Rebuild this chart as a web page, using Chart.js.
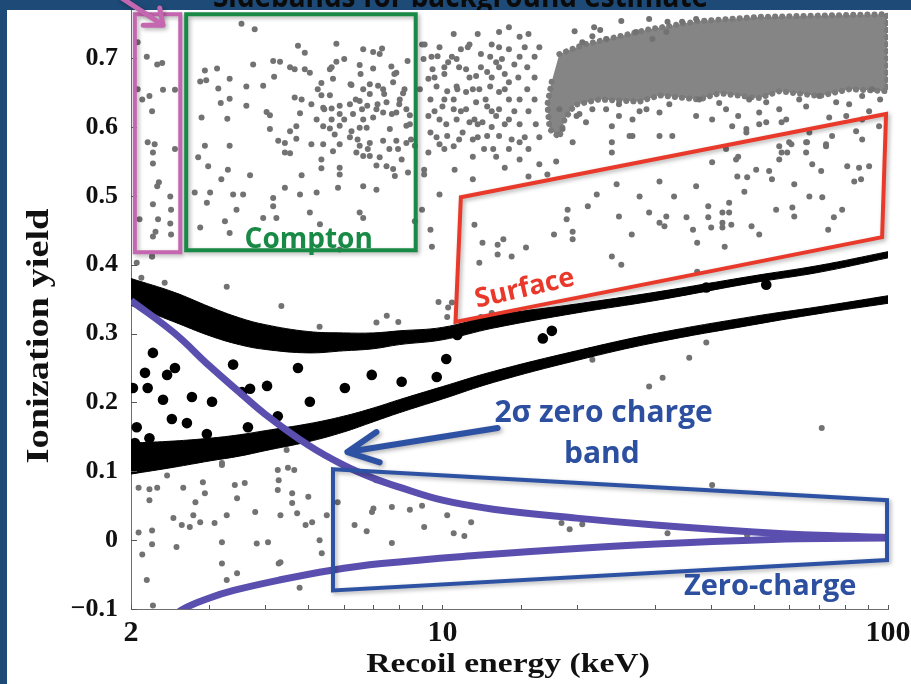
<!DOCTYPE html>
<html>
<head>
<meta charset="utf-8">
<title>Ionization yield vs recoil energy</title>
<script src="https://cdn.jsdelivr.net/npm/chart.js@4.4.1/dist/chart.umd.min.js"></script>
<style>
  html, body { margin: 0; padding: 0; background: #fff; }
  canvas { display: block; }
</style>
</head>
<body>
<canvas id="yieldChart" width="911" height="684"></canvas>
<script>
// recoil energy (keV) vs ionization yield
const xTickLabels = [2, 10, 100];
const yTicks = [-0.1, 0, 0.1, 0.2, 0.3, 0.4, 0.5, 0.6, 0.7];

// gray events, [energy, yield]
const leftSidebandEvents = [
  [2.07,0.723],[2.17,0.702],[2.29,0.691],[2.35,0.693],[2.07,0.655],[2.20,0.645],[2.36,0.654],[2.51,0.654],
  [2.12,0.640],[2.23,0.623],[2.18,0.578],[2.26,0.575],[2.24,0.563],[2.51,0.568],[2.24,0.547],[2.31,0.520],
  [2.29,0.514],[2.45,0.499],[2.24,0.488],[2.46,0.480],[2.09,0.466],[2.30,0.466],[2.45,0.460],[2.27,0.448],
  [2.24,0.441],[2.46,0.444],[2.23,0.412]
];

const comptonEvents = [
  [3.54,0.750],[3.79,0.742],[4.74,0.718],[4.91,0.708],[5.78,0.721],[6.64,0.713],[6.99,0.709],[7.32,0.714],[9.12,0.720],
  [3.76,0.691],[4.17,0.696],[4.32,0.695],[4.55,0.687],[4.66,0.684],[4.91,0.684],[5.04,0.679],[5.64,0.687],[5.78,0.695],
  [6.52,0.690],[6.99,0.685],[7.68,0.688],[7.88,0.679],
  [2.93,0.682],[3.12,0.685],[2.86,0.666],[2.95,0.668],[3.33,0.670],[3.63,0.659],[3.96,0.660],[4.19,0.673],[5.35,0.664],
  [5.68,0.670],[6.25,0.661],[6.64,0.655],[6.87,0.662],[7.17,0.660],[7.36,0.655],[7.75,0.665],[8.16,0.649],
  [3.14,0.656],[3.33,0.641],[3.18,0.635],[3.63,0.631],[4.66,0.643],[4.83,0.640],[5.08,0.633],[5.35,0.646],[5.59,0.646],
  [5.40,0.628],[5.64,0.627],[5.88,0.631],[6.20,0.633],[6.52,0.638],[6.78,0.631],[7.11,0.626],[7.49,0.636],[8.02,0.640],[8.30,0.626],
  [2.88,0.614],[3.29,0.612],[4.03,0.622],[4.10,0.617],[4.79,0.620],[5.22,0.611],[5.64,0.611],[5.88,0.619],[6.30,0.619],
  [6.64,0.611],[6.99,0.614],[7.36,0.621],[7.88,0.621],[8.45,0.617],
  [4.10,0.597],[4.55,0.594],[4.70,0.601],[5.40,0.601],[5.59,0.598],[5.88,0.602],[6.25,0.594],[6.52,0.599],[6.76,0.599],
  [7.62,0.597],[8.30,0.602],
  [4.28,0.580],[4.43,0.577],[4.70,0.583],[5.08,0.575],[5.40,0.575],[5.68,0.565],[5.88,0.575],[6.20,0.585],[6.52,0.573],
  [6.87,0.577],[7.36,0.580],[7.88,0.580],[8.30,0.577],[8.67,0.573],
  [2.93,0.573],[3.33,0.573],[4.43,0.563],[4.55,0.562],[6.41,0.563],[6.64,0.558],[6.87,0.558],[7.23,0.556],[7.95,0.568],
  [2.83,0.556],[2.98,0.543],[3.30,0.538],[3.19,0.524],[3.70,0.530],[4.83,0.530],[5.35,0.553],[5.35,0.540],[5.88,0.541],
  [5.88,0.531],[7.11,0.544],[7.49,0.543],[7.75,0.539],[7.82,0.529],[8.37,0.534],
  [2.78,0.505],[3.01,0.505],[2.96,0.490],[3.39,0.502],[3.57,0.502],[4.17,0.497],[4.43,0.512],[4.79,0.502],[5.22,0.505],
  [5.83,0.512],[6.64,0.514],[7.11,0.509],
  [3.45,0.480],[4.17,0.485],[3.96,0.468],[4.24,0.468],[5.04,0.476],[5.31,0.459],[6.52,0.476],[6.64,0.468],[3.25,0.463],
  [2.86,0.454],[3.33,0.446],[5.88,0.422],[8.67,0.463],
  [6.22,0.662],[6.39,0.640],[6.60,0.626],[6.87,0.648],[7.15,0.633],[7.40,0.648],[7.70,0.619],[8.00,0.633],[8.22,0.655],
  [8.45,0.604],[6.02,0.611],[6.45,0.582],[6.80,0.568],[7.60,0.568],[8.10,0.553],[8.50,0.582],[5.73,0.589],[5.43,0.626],
  [5.25,0.655],[5.59,0.684],[6.02,0.699],[6.55,0.677],[7.80,0.677],[8.35,0.696],[7.23,0.706]
];

const bulkEdgeEvents = [
  [13.4,0.738],[14.1,0.745],[22.6,0.741],[25.2,0.754],[29.1,0.757],[32.0,0.753],[34.5,0.753],[37.1,0.757],
  [9.0,0.720],[14.9,0.731],[20.6,0.723],[21.7,0.732],[23.3,0.728],[27.2,0.738],[29.6,0.728],[31.8,0.738],
  [9.07,0.699],[9.75,0.703],[10.3,0.694],[10.76,0.699],[11.3,0.684],[11.9,0.674],[12.6,0.680],[13.2,0.694],[13.6,0.699],[14.1,0.713],
  [9.3,0.670],[9.7,0.659],[10.25,0.652],[10.76,0.659],[11.3,0.651],[12.1,0.655],[12.8,0.659],[13.4,0.651],[14.1,0.665],
  [9.4,0.640],[10.0,0.630],[10.6,0.640],[11.3,0.626],[11.9,0.636],[12.6,0.630],[13.4,0.626],[14.1,0.640],
  [9.3,0.616],[9.85,0.611],[10.76,0.611],[11.5,0.607],[12.3,0.607],[13.2,0.616],[14.1,0.611],
  [9.4,0.592],[10.25,0.587],[11.1,0.592],[11.7,0.582],[12.6,0.587],[13.4,0.587],[14.3,0.582],
  [9.3,0.563],[10.6,0.572],[11.7,0.557],[13.2,0.557],[14.1,0.568],[14.9,0.578],
  [18.3,0.626],[20.0,0.616],[18.6,0.597],[19.6,0.578],[21.0,0.607],[21.7,0.626],[23.3,0.626],[24.0,0.601],[24.9,0.616],
  [26.7,0.611],[26.3,0.587],[28.7,0.626],[30.7,0.621],[30.7,0.587],[32.8,0.587],[37.1,0.616],[40.3,0.611],[43.3,0.626],
  [46.1,0.616],[48.1,0.597],[51.4,0.621],[53.3,0.636],[57.0,0.626],[59.1,0.611],[65.5,0.630],[70.1,0.645],[76.5,0.636],
  [80.6,0.616],[87.5,0.645],[92.1,0.655],[95.5,0.601],[87.5,0.582],[72.6,0.572],[65.5,0.578],[60.0,0.578],[57.0,0.572],
  [46.1,0.557],[43.3,0.568],[24.0,0.563],[24.0,0.578],[26.7,0.587],[18.0,0.550],[11.7,0.524],[9.47,0.426],[15.6,0.528],
  [44.7,0.601],[48.1,0.592],[53.3,0.607],[57.7,0.607],[66.6,0.592],[74.9,0.587],[87.5,0.611],[57.7,0.563],
  [9.5,0.684],[10.1,0.677],[11.0,0.713],[11.5,0.720],[12.2,0.706],[12.9,0.720],[13.8,0.677],[14.5,0.691],[10.6,0.626],
  [11.8,0.611],[12.9,0.600],[13.8,0.604],[10.9,0.582],[9.85,0.575],[12.4,0.568],[14.9,0.553],[16.5,0.546],[17.2,0.531],
  [13.8,0.541],[10.65,0.538],[9.1,0.531],[9.85,0.502],[9.0,0.480],[9.1,0.538],[9.4,0.451],
  [37.7,0.640],[41.8,0.635],[48.8,0.640],[63.2,0.640],[81.8,0.633],[96.0,0.640],[24.9,0.633],[20.3,0.619],[27.7,0.623],
  [32.3,0.633],[51.4,0.604],[73.8,0.614],[90.7,0.623],
  [10.6,0.735],[12.0,0.735],[15.6,0.735],[9.85,0.716],[11.4,0.716],[13.4,0.716],[15.3,0.716],[16.5,0.716],
  [9.45,0.702],[10.5,0.702],[12.8,0.702],[14.9,0.702],[16.1,0.702],[10.1,0.687],[10.9,0.687],[12.2,0.687],[13.4,0.687],
  [15.5,0.687],[9.6,0.672],[11.5,0.672],[12.9,0.672],[14.8,0.672],[16.1,0.672],[8.9,0.655],[10.8,0.655],[11.7,0.655],
  [13.8,0.655],[15.5,0.655],[10.1,0.640],[12.5,0.640],[14.9,0.640],[16.1,0.640],[9.6,0.623],[11.0,0.623],[12.9,0.623],
  [14.5,0.623],[15.6,0.623],[10.2,0.604],[12.0,0.604],[14.9,0.604],[16.2,0.604],[9.7,0.585],[12.0,0.585],[15.3,0.585],
  [16.5,0.585],[10.1,0.568],[13.0,0.568],[15.6,0.568],[19.8,0.739],[21.9,0.745]
];

const surfaceEvents = [
  [22.2,0.502],[24.6,0.517],[30.7,0.521],[27.7,0.499],[33.1,0.499],[37.1,0.514],[40.3,0.549],[45.6,0.553],[45.9,0.528],
  [48.3,0.527],[50.6,0.538],[54.1,0.536],[54.9,0.524],[61.6,0.517],[60.7,0.575],[65.8,0.578],[72.6,0.575],[57.0,0.553],
  [59.4,0.563],[65.5,0.563],[67.6,0.546],[70.8,0.536],[81.0,0.543],[86.1,0.541],[90.7,0.543],[87.0,0.524],[84.0,0.521],
  [84.8,0.594],[66.6,0.499],[71.2,0.498],[61.0,0.483],[61.6,0.470],[56.1,0.480],[78.9,0.480],[75.6,0.469],[73.4,0.451],
  [51.4,0.444],[49.4,0.456],[47.6,0.506],[44.0,0.490],[44.0,0.476],[44.5,0.458],[42.5,0.476],[42.5,0.461],[42.5,0.454],
  [39.5,0.485],[39.5,0.469],[40.1,0.454],[36.5,0.451],[35.3,0.469],[31.8,0.470],[30.7,0.461],[31.5,0.456],[29.1,0.476],
  [24.9,0.470],[26.6,0.444],[21.2,0.485],[19.1,0.480],[19.0,0.466],[19.6,0.448],[19.6,0.437],[17.8,0.444],[15.4,0.425],
  [13.7,0.437],[13.3,0.429],[12.3,0.432],[13.3,0.415],[14.3,0.412],[11.8,0.458],[37.3,0.432],[43.0,0.426],[24.0,0.412],
  [25.2,0.400],[37.3,0.390],[12.1,0.403]
];

const midYieldEvents = [
  [2.11,0.381],[2.38,0.374],[2.45,0.355],[3.28,0.368],[4.35,0.340],[3.09,0.330],[5.30,0.310],[7.11,0.316],[7.5,0.326],
  [7.96,0.317],[2.06,0.403],[2.23,0.412],[9.8,0.346],[10.5,0.345],[10.3,0.338],[10.25,0.324],[12.2,0.324],[12.9,0.330],
  [39.1,0.287],[35.8,0.265],[21.7,0.262],[31.2,0.236],[29.1,0.223],[71.0,0.163],[40.3,0.080]
];

const lowYieldEvents = [
  [2.08,0.076],[2.2,0.074],[2.29,0.076],[2.2,0.058],[2.62,0.076],[2.79,0.055],[2.9,0.084],[2.93,0.068],[3.2,0.109],
  [3.42,0.080],[3.6,0.083],[3.46,0.061],[2.49,0.032],[2.6,0.022],[2.71,0.019],[2.76,0.036],[2.86,0.026],[3.08,0.025],
  [3.28,0.036],[3.8,0.041],[4.27,0.102],[4.5,0.105],[4.65,0.102],[4.29,0.087],[4.27,0.073],[4.33,0.036],[4.6,0.054],
  [4.72,0.039],[2.08,0.011],[2.23,0.014],[2.23,-0.006],[2.12,-0.021],[2.53,-0.010],[3.2,-0.003],[3.2,-0.034],[3.83,-0.005],
  [4.06,-0.003],[4.29,-0.034],[2.17,-0.058],[3.28,-0.058],[3.46,-0.048],[2.24,-0.095],[4.47,0.131],[2.41,0.094],[3.2,0.112],
  [4.6,0.068],[5.1,0.026],[4.93,0.022],[5.5,0.036],[5.3,0.000],[5.36,-0.019],[5.0,0.063],[5.82,0.055],[6.35,0.022],
  [6.76,0.013],[6.95,0.041],[7.0,0.046],[7.1,0.087],[7.7,0.048],[7.7,-0.004],[8.45,0.044],[9.0,0.050],[9.1,0.019],
  [10.25,0.036],[10.6,0.010],[11.2,0.006],[11.6,0.026],[18.5,0.025],[19.3,0.016],[20.6,0.023],[32.0,0.010],[4.78,-0.069],
  [4.33,-0.032],[48.3,0.007]
];

// outline of the saturated bulk population
const bulkCore = [
  [18.3,0.706],[20.8,0.720],[22.5,0.725],[29.1,0.742],[37.7,0.754],[51.4,0.760],[99.5,0.764],[99.5,0.652],
  [82.2,0.655],[70.1,0.645],[57.0,0.652],[51.4,0.642],[41.8,0.649],[37.7,0.640],[30.7,0.646],[27.7,0.637],
  [22.5,0.640],[19.8,0.632],[18.8,0.611],[18.3,0.585],[17.4,0.597],[17.2,0.633],[17.6,0.667]
];

// neutron-like candidates
const blackEvents = [
  [2.24,0.272],[2.15,0.243],[2.41,0.240],[2.51,0.250],[3.39,0.255],[4.74,0.250],[2.02,0.221],[2.18,0.221],[2.36,0.204],
  [2.74,0.208],[3.04,0.201],[3.55,0.215],[3.70,0.220],[4.04,0.224],[6.04,0.221],[6.94,0.240],[8.10,0.230],[9.71,0.237],
  [10.2,0.263],[5.04,0.201],[2.47,0.176],[2.67,0.170],[2.06,0.164],[2.96,0.154],[3.66,0.164],[4.27,0.180],[2.20,0.148],
  [2.04,0.141],[16.8,0.293],[17.6,0.304],[39.1,0.367],[53.3,0.371],[10.8,0.298]
];

// electron-recoil and nuclear-recoil bands
const bandEnergy = [2, 2.5, 3, 3.5, 4, 5, 6, 7, 8, 10, 13, 20, 30, 50, 70, 100];
const erBandHigh = [0.380,0.360,0.339,0.323,0.313,0.303,0.301,0.301,0.304,0.309,0.326,0.343,0.360,0.384,0.399,0.419];
const erBandLow  = [0.341,0.317,0.297,0.284,0.277,0.272,0.275,0.278,0.284,0.291,0.308,0.330,0.348,0.374,0.389,0.410];
const nrBandHigh = [0.141,0.144,0.148,0.153,0.159,0.169,0.180,0.192,0.204,0.223,0.245,0.275,0.300,0.325,0.339,0.355];
const nrBandLow  = [0.096,0.106,0.115,0.122,0.130,0.143,0.157,0.172,0.185,0.205,0.229,0.261,0.287,0.313,0.329,0.344];

// 2-sigma zero charge band
const zeroChargeUpper = [[2,0.348],[2.5,0.301],[3,0.253],[3.5,0.215],[4,0.183],[5,0.138],[6,0.109],[7,0.090],[8,0.077],
  [10,0.058],[13,0.045],[20,0.032],[30,0.022],[50,0.012],[70,0.007],[100,0.004]];
const zeroChargeLower = [[2.45,-0.115],[2.62,-0.100],[3.0,-0.084],[3.4,-0.073],[4.3,-0.058],[5.6,-0.044],[7.3,-0.034],
  [12,-0.022],[20,-0.012],[34,-0.004],[63,0.002],[100,0.003]];

const toXY = ([x, y]) => ({ x, y });
const band = vals => bandEnergy.map((e, i) => ({ x: e, y: vals[i] }));
const grayEvents = [...leftSidebandEvents, ...comptonEvents, ...bulkEdgeEvents, ...surfaceEvents, ...midYieldEvents, ...lowYieldEvents];

// selection regions and notes, in data coordinates
const regions = [
  { color: '#c566b0', pts: [[2.04,0.764],[2.58,0.764],[2.58,0.418],[2.04,0.418]] },
  { color: '#198a46', pts: [[2.66,0.764],[8.71,0.764],[8.71,0.421],[2.66,0.421]] },
  { color: '#e8392b', pts: [[11.0,0.498],[99.0,0.619],[97.0,0.440],[10.7,0.317]] },
  { color: '#2e52a3', pts: [[5.68,0.103],[99.5,0.058],[99.5,-0.029],[5.68,-0.073]] }
];
const arrows = [
  { color: '#2e52a3', width: 6, tail: [13.3,0.163], tip: [6.12,0.128], barbs: [[7.11,0.157],[7.23,0.113]] },
  { color: '#c566b0', width: 5, tail: [1.89,0.789], tip: [2.36,0.748], barbs: [[2.13,0.748],[2.32,0.773]] }
];
const notes = [
  { text: 'Compton', at: [5.01,0.425], color: '#198a46', size: 28 },
  { text: 'Surface', at: [15.3,0.365], color: '#e8392b', size: 27, angle: -13, middle: true },
  { text: '2σ zero charge', at: [23.0,0.172], color: '#2d4fa0', size: 30 },
  { text: 'band', at: [22.8,0.112], color: '#2d4fa0', size: 30 },
  { text: 'Zero-charge', at: [54.4,-0.080], color: '#2d4fa0', size: 29 }
];

const serif = 'Liberation Serif';

// slide frame behind the plot
const slideFrame = {
  id: 'slideFrame',
  beforeDraw(chart) {
    const { ctx, width, height } = chart;
    ctx.save();
    ctx.fillStyle = '#fff';
    ctx.fillRect(0, 0, width, height);
    ctx.fillStyle = '#1d4a76';
    ctx.fillRect(0, 0, width, 10);
    ctx.fillRect(0, 0, 7, height);
    ctx.beginPath();
    ctx.rect(0, 0, width, 10);
    ctx.clip();
    ctx.fillStyle = '#0b0b0b';
    ctx.font = 'bold 32px "Open Sans"';
    const title = 'Sidebands for background estimate';
    const w = ctx.measureText(title).width;
    ctx.translate(213, 7);
    ctx.scale(495 / w, 1);
    ctx.fillText(title, 0, 0);
    ctx.restore();
  }
};

// short tick marks pointing into the plot
const inwardTicks = {
  id: 'inwardTicks',
  afterDatasetsDraw(chart) {
    const { ctx, chartArea: a, scales: { x, y } } = chart;
    ctx.save();
    ctx.strokeStyle = '#555';
    ctx.lineWidth = 1;
    ctx.beginPath();
    x.ticks.forEach(t => {
      const px = Math.round(x.getPixelForValue(t.value)) + 0.5;
      ctx.moveTo(px, a.bottom);
      ctx.lineTo(px, a.bottom - 4);
    });
    yTicks.forEach(v => {
      const py = Math.round(y.getPixelForValue(v)) + 0.5;
      ctx.moveTo(a.left, py);
      ctx.lineTo(a.left + 6, py);
    });
    ctx.stroke();
    ctx.restore();
  }
};

const overlays = {
  id: 'overlays',
  afterDatasetsDraw(chart) {
    const { ctx, scales: { x, y } } = chart;
    const P = p => [x.getPixelForValue(p[0]), y.getPixelForValue(p[1])];
    ctx.save();
    ctx.shadowColor = 'rgba(0,0,0,0.3)';
    ctx.shadowBlur = 4;
    ctx.shadowOffsetX = 2;
    ctx.shadowOffsetY = 2;
    ctx.lineWidth = 4;
    ctx.lineJoin = 'miter';
    regions.forEach(r => {
      ctx.strokeStyle = r.color;
      ctx.beginPath();
      r.pts.forEach((p, i) => { const [px, py] = P(p); i ? ctx.lineTo(px, py) : ctx.moveTo(px, py); });
      ctx.closePath();
      ctx.stroke();
    });
    arrows.forEach(a => {
      const [tx, ty] = P(a.tip);
      ctx.strokeStyle = a.color;
      ctx.lineWidth = a.width;
      ctx.lineCap = 'round';
      ctx.lineJoin = 'round';
      ctx.beginPath();
      ctx.moveTo(...P(a.tail));
      ctx.lineTo(tx, ty);
      ctx.moveTo(...P(a.barbs[0]));
      ctx.lineTo(tx, ty);
      ctx.lineTo(...P(a.barbs[1]));
      ctx.stroke();
    });
    ctx.restore();

    ctx.save();
    notes.forEach(n => {
      const [px, py] = P(n.at);
      ctx.save();
      ctx.translate(px, py);
      if (n.angle) ctx.rotate(n.angle * Math.PI / 180);
      ctx.font = `bold ${n.size}px "Open Sans"`;
      ctx.fillStyle = n.color;
      ctx.textAlign = 'center';
      ctx.textBaseline = n.middle ? 'middle' : 'alphabetic';
      ctx.fillText(n.text, 0, 0);
      ctx.restore();
    });
    ctx.restore();
  }
};

const axisTitles = {
  id: 'axisTitles',
  afterDraw(chart) {
    const { ctx } = chart;
    ctx.save();
    ctx.fillStyle = '#111';
    ctx.textAlign = 'center';
    ctx.textBaseline = 'middle';
    ctx.font = `bold 32px "${serif}"`;
    ctx.translate(40, 336);
    ctx.rotate(-Math.PI / 2);
    ctx.scale(1.2, 1);
    ctx.fillText('Ionization yield', 0, 0);
    ctx.restore();

    ctx.save();
    ctx.fillStyle = '#111';
    ctx.textAlign = 'center';
    ctx.textBaseline = 'alphabetic';
    ctx.font = `bold 28px "${serif}"`;
    ctx.translate(508, 672);
    ctx.scale(1.2, 1);
    ctx.fillText('Recoil energy (keV)', 0, 0);
    ctx.restore();
  }
};

const ctx = document.getElementById('yieldChart').getContext('2d');
new Chart(ctx, {
  type: 'scatter',
  data: {
    datasets: [
      // dotted outline keeps the edge of the dense population grainy
      { data: bulkCore.map(toXY), showLine: true, fill: 'shape', backgroundColor: '#858585',
        borderColor: '#7a7a7a', borderWidth: 6, borderDash: [0.1, 7], borderCapStyle: 'round',
        pointRadius: 0, order: 10 },
      { data: grayEvents.map(toXY), backgroundColor: '#727272', borderWidth: 0, pointRadius: 3, order: 9 },
      { data: band(erBandHigh), showLine: true, borderColor: '#000', borderWidth: 1, pointRadius: 0, tension: 0.4, order: 8 },
      { data: band(erBandLow), showLine: true, borderColor: '#000', borderWidth: 1, pointRadius: 0, tension: 0.4,
        fill: '-1', backgroundColor: '#000', order: 8 },
      { data: band(nrBandHigh), showLine: true, borderColor: '#000', borderWidth: 1, pointRadius: 0, tension: 0.4, order: 8 },
      { data: band(nrBandLow), showLine: true, borderColor: '#000', borderWidth: 1, pointRadius: 0, tension: 0.4,
        fill: '-1', backgroundColor: '#000', order: 8 },
      { data: blackEvents.map(toXY), backgroundColor: '#000', borderWidth: 0, pointRadius: 5.3, order: 7 },
      { data: zeroChargeUpper.map(toXY), showLine: true, borderColor: '#5a4fae', borderWidth: 7, pointRadius: 0,
        tension: 0.4, clip: 0, order: 6 },
      { data: zeroChargeLower.map(toXY), showLine: true, borderColor: '#5a4fae', borderWidth: 7, pointRadius: 0,
        tension: 0.4, clip: 0, order: 6 }
    ]
  },
  options: {
    responsive: false,
    animation: false,
    layout: { padding: { top: 10, right: 23, bottom: 0, left: 0 } },
    plugins: { legend: { display: false }, tooltip: { enabled: false } },
    scales: {
      x: {
        type: 'logarithmic',
        min: 2,
        max: 100,
        border: { display: true, color: '#6e6e6e', width: 1 },
        grid: { display: true, drawOnChartArea: false, drawTicks: false },
        ticks: {
          autoSkip: false,
          maxRotation: 0,
          padding: 6,
          color: '#111',
          font: { family: serif, weight: 'bold', size: 30 },
          callback: v => xTickLabels.some(t => Math.abs(t - v) < 1e-6) ? String(v) : ''
        },
        afterFit: s => { s.height = 75; s.paddingLeft = 0; s.paddingRight = 0; }
      },
      y: {
        min: -0.1,
        max: 0.77,
        afterBuildTicks: s => { s.ticks = yTicks.map(v => ({ value: v })); },
        border: { display: true, color: '#6e6e6e', width: 1 },
        grid: { display: true, drawOnChartArea: false, drawTicks: false },
        ticks: {
          padding: 13,
          color: '#111',
          font: { family: serif, weight: 'bold', size: 26 },
          callback: v => Math.abs(v) < 1e-9 ? '0' : (v < 0 ? '\u2212' : '') + Math.abs(v).toFixed(1)
        },
        afterFit: s => { s.width = 131; s.paddingTop = 0; s.paddingBottom = 0; }
      }
    }
  },
  plugins: [slideFrame, inwardTicks, overlays, axisTitles]
});
</script>
</body>
</html>
